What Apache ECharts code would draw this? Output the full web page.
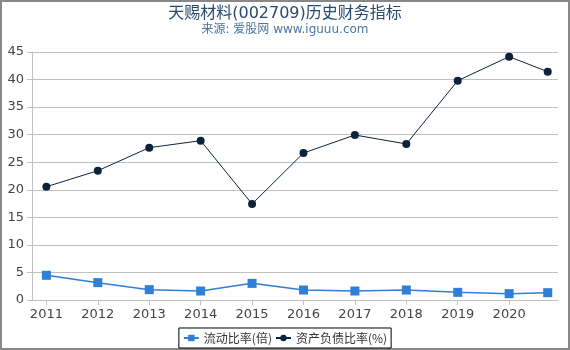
<!DOCTYPE html>
<html>
<head>
<meta charset="utf-8">
<script src="https://cdn.jsdelivr.net/npm/echarts@6/dist/echarts.min.js"></script>
<style>
  html, body { margin: 0; padding: 0; background: #fff; }
  #chart { width: 570px; height: 350px; }
</style>
</head>
<body>
<div id="chart"></div>
<script>
// x positions (year; last point is the latest quarter)
let years = [2011, 2012, 2013, 2014, 2015, 2016, 2017, 2018, 2019, 2020, 2020.75];
let yearTicks = [2011, 2012, 2013, 2014, 2015, 2016, 2017, 2018, 2019, 2020];
let currentRatio = [4.48, 3.15, 1.88, 1.63, 3.02, 1.81, 1.63, 1.81, 1.39, 1.15, 1.33];
let debtRatio = [20.56, 23.46, 27.64, 28.91, 17.42, 26.67, 29.94, 28.31, 39.8, 44.15, 41.43];

let pairs = (vals) => years.map((y, i) => [y, vals[i]]);
let ff = "DejaVu Sans, Noto Sans CJK SC, sans-serif";

let chart = echarts.init(document.getElementById("chart"));
chart.setOption({
  animation: false,
  title: {
    text: "天赐材料(002709)历史财务指标",
    subtext: "来源: 爱股网 www.iguuu.com",
    left: "center",
    top: 1,
    itemGap: 2,
    textStyle: { fontSize: 16, fontWeight: "normal", color: "#274b6d", fontFamily: ff },
    subtextStyle: { fontSize: 12, color: "#4d759e", fontFamily: ff }
  },
  grid: { left: 32, right: 12, top: 52, bottom: 50 },
  legend: {
    bottom: 2,
    left: "center",
    borderColor: "#000",
    borderWidth: 1,
    padding: [4, 4],
    itemGap: 3,
    itemWidth: 15,
    itemHeight: 8,
    textStyle: { fontSize: 12, color: "#333", fontFamily: "Noto Sans CJK SC" },
    data: ["流动比率(倍)", "资产负债比率(%)"]
  },
  xAxis: {
    type: "value",
    min: 2010.72,
    max: 2020.95,
    axisLine: { lineStyle: { color: "#c0c0c0" } },
    axisTick: { show: true, customValues: yearTicks, length: 5, lineStyle: { color: "#c0c0c0" } },
    axisLabel: { customValues: yearTicks, color: "#444", fontSize: 13, margin: 8, fontFamily: ff, formatter: (v) => String(v) },
    splitLine: { show: false }
  },
  yAxis: {
    type: "value",
    min: 0,
    max: 45,
    interval: 5,
    axisLine: { show: true, lineStyle: { color: "#c0c0c0" } },
    axisTick: { show: true, length: 5, lineStyle: { color: "#c0c0c0" } },
    axisLabel: { color: "#444", fontSize: 13, margin: 8, fontFamily: ff },
    splitLine: { lineStyle: { color: "#c0c0c0" } }
  },
  series: [
    {
      name: "流动比率(倍)",
      type: "line",
      data: pairs(currentRatio),
      symbol: "rect",
      symbolSize: 9,
      itemStyle: { color: "#2f7ed8" },
      lineStyle: { color: "#2f7ed8", width: 1.5 }
    },
    {
      name: "资产负债比率(%)",
      type: "line",
      data: pairs(debtRatio),
      symbol: "circle",
      symbolSize: 8,
      itemStyle: { color: "#0d233a" },
      lineStyle: { color: "#0d233a", width: 1 }
    }
  ],
  graphic: [
    {
      type: "rect",
      shape: { x: 1, y: 1, width: 568, height: 348 },
      style: { fill: null, stroke: "#888", lineWidth: 2 },
      silent: true
    }
  ]
});
</script>
</body>
</html>
